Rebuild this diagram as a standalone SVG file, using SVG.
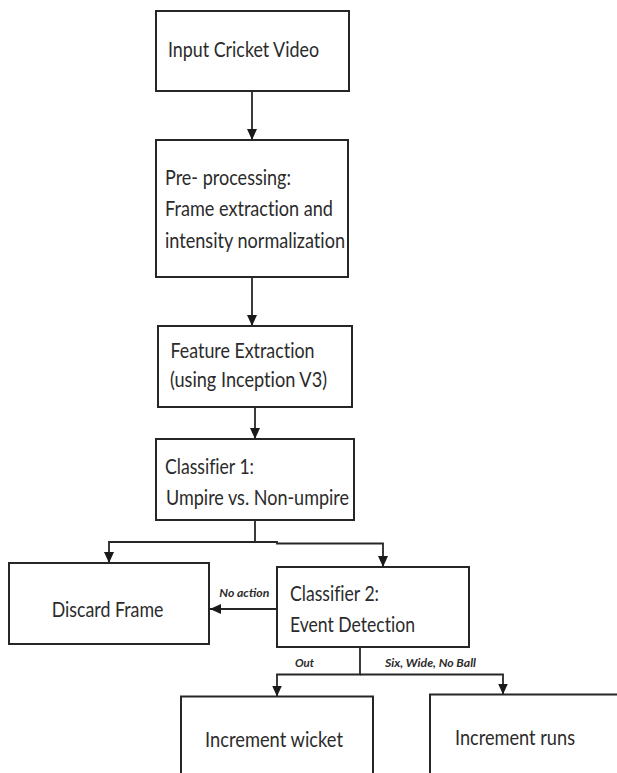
<svg xmlns="http://www.w3.org/2000/svg" width="617" height="773" viewBox="0 0 617 773">
<defs>
<style>
.box{fill:#fff;stroke:#262626;stroke-width:2}
.t{font-family:Lato,"Liberation Sans",sans-serif;font-size:21px;fill:#2b2b2b;font-variant-ligatures:none;font-feature-settings:"liga" 0,"dlig" 0}
.lbl{font-family:Lato,"Liberation Sans",sans-serif;font-size:12px;font-weight:bold;font-style:italic;fill:#2b2b2b}
.c{fill:none;stroke:#262626;stroke-width:1.8}
</style>
<marker id="ah" markerUnits="userSpaceOnUse" markerWidth="11" markerHeight="10" refX="11" refY="5" orient="auto">
<path d="M0,0 L11,5 L0,10 z" fill="#1a1a1a"/>
</marker>
</defs>
<rect width="617" height="773" fill="#fff"/>
<g id="connectors">
<path class="c" d="M252,91 V140" marker-end="url(#ah)"/>
<path class="c" d="M252,277 V326" marker-end="url(#ah)"/>
<path class="c" d="M255,407 V439" marker-end="url(#ah)"/>
<path class="c" d="M255,520 V542 H109 V563" marker-end="url(#ah)"/>
<path class="c" d="M255,542 H277 V543.5 H383 V567" marker-end="url(#ah)"/>
<path class="c" d="M277,609 H210" marker-end="url(#ah)"/>
<path class="c" d="M360,648 V674.5 H277 V696.5" marker-end="url(#ah)"/>
<path class="c" d="M360,674.5 H503 V694.5" marker-end="url(#ah)"/>
<text class="lbl" x="219.3" y="596.5" textLength="50" lengthAdjust="spacingAndGlyphs">No action</text>
<text class="lbl" x="295" y="667" textLength="19" lengthAdjust="spacingAndGlyphs">Out</text>
<text class="lbl" x="385" y="667" textLength="91" lengthAdjust="spacingAndGlyphs">Six, Wide, No Ball</text>
</g>
<g id="input">
<rect class="box" x="156" y="11" width="193" height="80"/>
<text class="t" x="168" y="57" textLength="151" lengthAdjust="spacingAndGlyphs">Input Cricket Video</text>
</g>
<g id="preprocessing">
<rect class="box" x="156" y="140" width="192" height="137"/>
<text class="t" x="165" y="185" textLength="126" lengthAdjust="spacingAndGlyphs">Pre- processing:</text>
<text class="t" x="165" y="215.5" textLength="168" lengthAdjust="spacingAndGlyphs">Frame extraction and</text>
<text class="t" x="165" y="247.5" textLength="180" lengthAdjust="spacingAndGlyphs">intensity normalization</text>
</g>
<g id="feature">
<rect class="box" x="158" y="326" width="194" height="81"/>
<text class="t" x="170.5" y="358" textLength="144" lengthAdjust="spacingAndGlyphs">Feature Extraction</text>
<text class="t" x="170" y="387" textLength="157" lengthAdjust="spacingAndGlyphs">(using Inception V3)</text>
</g>
<g id="classifier1">
<rect class="box" x="156" y="439" width="198" height="81"/>
<text class="t" x="165" y="474" textLength="89" lengthAdjust="spacingAndGlyphs">Classifier 1:</text>
<text class="t" x="166" y="505" textLength="183" lengthAdjust="spacingAndGlyphs">Umpire vs. Non-umpire</text>
</g>
<g id="discard">
<rect class="box" x="9" y="563" width="200" height="81"/>
<text class="t" x="51.7" y="617" textLength="111.7" lengthAdjust="spacingAndGlyphs">Discard Frame</text>
</g>
<g id="classifier2">
<rect class="box" x="277" y="567" width="192" height="80"/>
<text class="t" x="290" y="600.5" textLength="89" lengthAdjust="spacingAndGlyphs">Classifier 2:</text>
<text class="t" x="290" y="631.5" textLength="125" lengthAdjust="spacingAndGlyphs">Event Detection</text>
</g>
<g id="wicket">
<rect class="box" x="181" y="696.5" width="192" height="100"/>
<text class="t" x="205" y="746.5" textLength="138" lengthAdjust="spacingAndGlyphs">Increment wicket</text>
</g>
<g id="runs">
<rect class="box" x="430" y="694.5" width="200" height="100"/>
<text class="t" x="455" y="745" textLength="120" lengthAdjust="spacingAndGlyphs">Increment runs</text>
</g>
</svg>
